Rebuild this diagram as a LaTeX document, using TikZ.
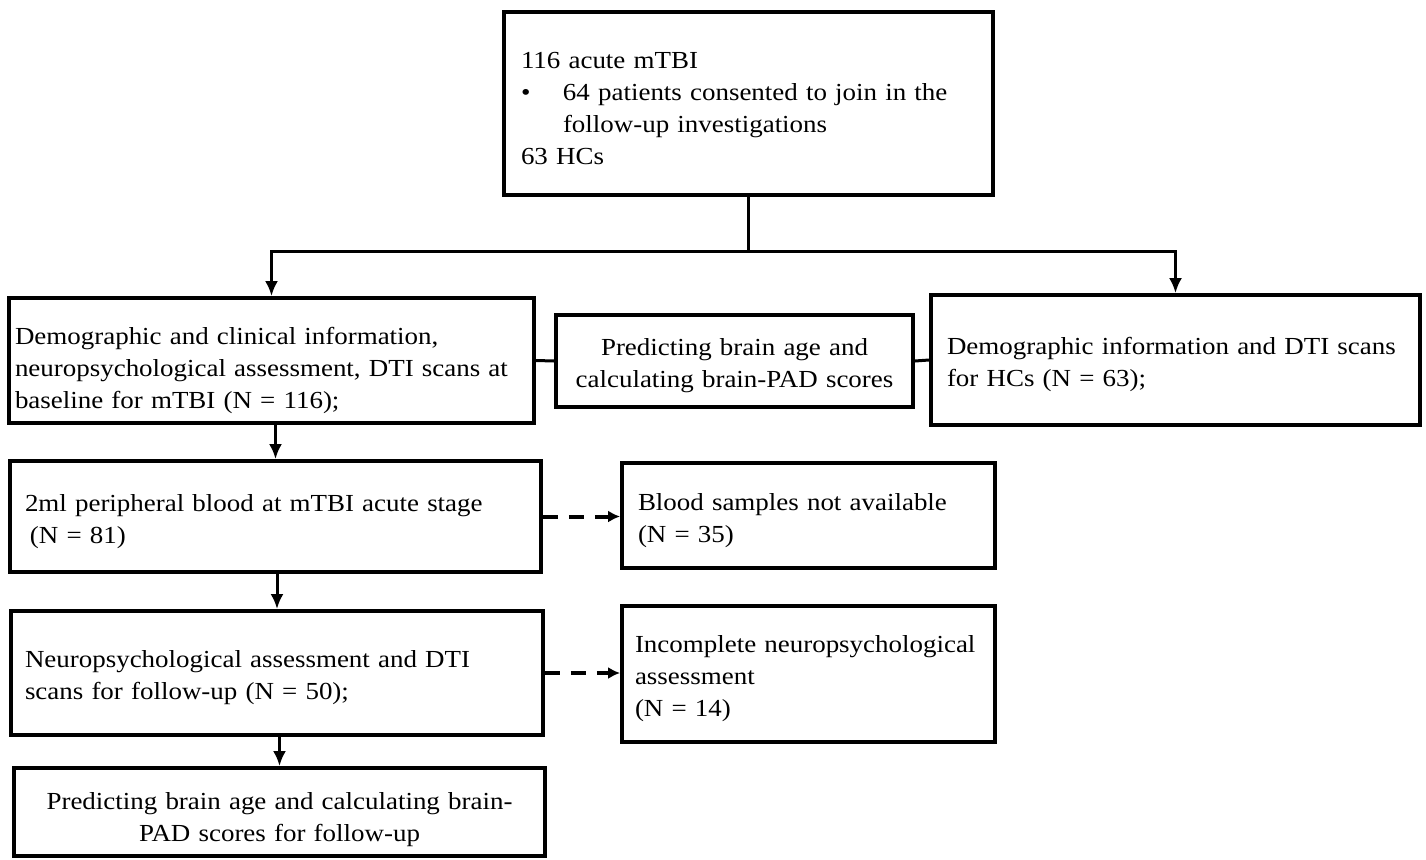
\documentclass[tikz,border=0pt]{standalone}
\usepackage{fontspec}
\setmainfont{Liberation Serif}[FakeStretch=1.1]
\usepackage{tikz}
\usetikzlibrary{arrows.meta}

\tikzset{
    stagebox/.style={draw, rectangle, line width=3.8pt, inner ysep=0pt, font=\fontsize{24.5}{32}\selectfont, lower=26.5pt},
    lower/.style={execute at begin node={\rule{0pt}{#1}}},
    link/.style={line width=3pt},
    linkarrow/.style={line width=3pt, -{Latex[length=15pt,width=13pt]}},
    droparrow/.style={line width=4pt, dash pattern=on 15pt off 11pt, -{Latex[length=12pt,width=12pt]}}
}

\begin{document}
\begin{tikzpicture}[x=1pt, y=-1pt]
            \useasboundingbox (0, 0) rectangle (1426, 859);

            % Nodes
            \node[stagebox, minimum width=489pt, minimum height=183pt, inner xsep=17pt, text width=455pt, align=left] (cohort) at (748.5, 103.5) {116 acute mTBI\\
                \makebox[42pt][l]{\textbullet}64 patients consented to join in the\\
                \hspace*{42pt}follow-up investigations\\
                63 HCs};
            \node[stagebox, lower=37.5pt, minimum width=525pt, minimum height=125pt, inner xsep=6pt, text width=513pt, align=left] (baseline) at (271.5, 360.5) {Demographic and clinical information,\\
                neuropsychological assessment, DTI scans at\\
                baseline for mTBI (N = 116);};
            \node[stagebox, minimum width=357pt, minimum height=92pt, inner xsep=6pt, text width=345pt, align=center] (predict) at (734.5, 361) {Predicting brain age and\\
                calculating brain-PAD scores};
            \node[stagebox, minimum width=489pt, minimum height=130pt, inner xsep=16pt, text width=457pt, align=left] (controls) at (1175.5, 360) {Demographic information and DTI scans\\
                for HCs (N = 63);};
            \node[stagebox, minimum width=531pt, minimum height=111pt, inner xsep=15pt, text width=501pt, align=left] (blood) at (275.5, 516.5) {2ml peripheral blood at mTBI acute stage\\
                \hspace*{5pt}(N = 81)};
            \node[stagebox, minimum width=373pt, minimum height=105pt, inner xsep=16pt, text width=341pt, align=left] (nosample) at (808.5, 515.5) {Blood samples not available\\
                (N = 35)};
            \node[stagebox, minimum width=532pt, minimum height=124pt, inner xsep=14pt, text width=504pt, align=left] (neuro) at (277, 673) {Neuropsychological assessment and DTI\\
                scans for follow-up (N = 50);};
            \node[stagebox, minimum width=373pt, minimum height=136pt, inner xsep=13pt, text width=347pt, align=left] (incomplete) at (808.5, 674) {Incomplete neuropsychological\\
                assessment\\
                (N = 14)};
            \node[stagebox, lower=31.5pt, minimum width=531pt, minimum height=88pt, inner xsep=6pt, text width=519pt, align=center] (followup) at (279.5, 812) {Predicting brain age and calculating brain-\\
                PAD scores for follow-up};

            % Lines
            \coordinate (split) at (748.5, 251);
            \draw[link] (cohort.south) -- (split);
            \draw[linkarrow] (split) -| (baseline.north);
            \draw[linkarrow] (split) -| (controls.north);
            \draw[link] (baseline.east) -- (predict.west);
            \draw[link] (predict.east) -- (controls.west);
            \draw[linkarrow] (blood.north |- baseline.south) -- (blood.north);
            \draw[droparrow] (blood.east) -- (blood.east -| nosample.west);
            \draw[linkarrow] (neuro.north |- blood.south) -- (neuro.north);
            \draw[droparrow] (neuro.east) -- (neuro.east -| incomplete.west);
            \draw[linkarrow] (followup.north |- neuro.south) -- (followup.north);
        \end{tikzpicture}
\end{document}
